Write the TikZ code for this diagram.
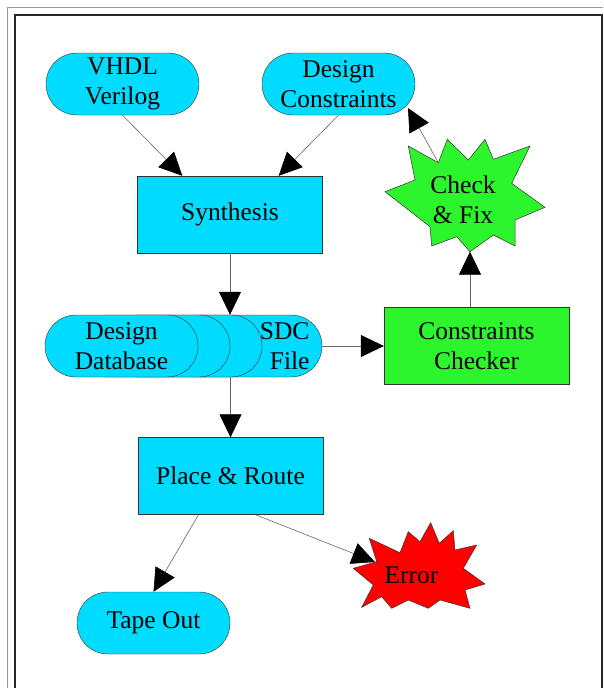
\documentclass[tikz,border=0pt]{standalone}
\usepackage{fontspec}
\setmainfont{Liberation Serif}
\usetikzlibrary{arrows.meta}
\definecolor{skyfill}{RGB}{0,220,255}
\definecolor{okfill}{RGB}{45,245,45}
\definecolor{errfill}{RGB}{255,0,0}
\tikzset{
  pill/.style={draw=black!80, fill=skyfill, rounded corners=30.9pt, minimum width=153pt, minimum height=62pt, inner sep=0pt, align=center},
  box/.style={draw=black!80, fill=skyfill, minimum width=185pt, minimum height=77pt, inner sep=0pt, align=center},
  flow/.style={draw=black!60, line width=0.6pt, -{Triangle[length=23pt,width=22pt,black]}},
  burst/.style={draw=black!80, line width=0.5pt}
}
\begin{document}
\begin{tikzpicture}[x=1pt,y=-1pt,font=\fontsize{25.5}{30}\selectfont]
\useasboundingbox (0,0) rectangle (603,688);
% frame
\draw [black!40, line width=1pt] (7,688) -- (7,7) -- (603,7);
\draw [black!85, line width=1.5pt] (15,688) -- (15,15) -- (602,15) -- (602,688);

\node (vhdl) at (122.5,84) [pill] {VHDL\\Verilog};
\node (dc) at (338.5,84) [pill] {Design\\Constraints};
\node (synth) at (230,214.5) [box] {Synthesis};

% stacked database
\node (db4) at (245.5,346) [pill, align=right, text width=128pt] {SDC\\File};
\node (db3) at (185.5,346) [pill] {};
\node (db2) at (153.5,346) [pill] {};
\node (db1) at (121.5,346) [pill] {Design\\Database};

\node (checker) at (476.5,346) [box, fill=okfill] {Constraints\\Checker};
\node (pr) at (230.5,476) [box] {Place \& Route};
\node (tape) at (153.5,623) [pill] {Tape Out};

% check & fix burst
\draw [burst, fill=okfill] (408.3,146) -- (438.3,162.7) -- (447.3,139.3) -- (468.3,160)
  -- (485,139.3) -- (493.3,159.3) -- (530,146) -- (511.7,183.3) -- (545,207.3)
  -- (515,220) -- (515,246) -- (493.3,235) -- (470,251.7) -- (456.7,236.7)
  -- (431.7,246) -- (430,226.7) -- (385,191.7) -- (415,180) -- cycle;
\node (fix) at (463,200) [align=center] {Check\\\& Fix};
\coordinate (fixtip) at (438.3,162.7);
\coordinate (fixbot) at (470,251.7);
\coordinate (dcfix) at (408,108);

% error burst
\draw [burst, fill=errfill] (369.3,538.3) -- (400,552.7) -- (408.3,531.7) -- (420,541.7)
  -- (430.7,522.7) -- (439.3,543.3) -- (453.3,530.7) -- (455,550) -- (476.7,545)
  -- (463.3,568.3) -- (485,584) -- (465,590) -- (470,608.3) -- (440,600)
  -- (428.3,608.3) -- (408.3,600) -- (391.7,608.3) -- (381.7,596.7) -- (361.7,607.3)
  -- (373.3,585) -- (353.3,568.3) -- (376.7,561.7) -- cycle;
\node (err) at (411.5,575) {Error};
\coordinate (errtip) at (375,562);

\draw [flow] (vhdl.south) -- ([xshift=45pt]synth.north west);
\draw [flow] (dc.south) -- ([xshift=-44pt]synth.north east);
\draw [flow] (synth.south) -- (synth.south |- db1.north);
\draw [flow] (db4.east) -- (checker.west);
\draw [flow] ([xshift=-6.5pt]checker.north) -- (fixbot);
\draw [flow] (fixtip) -- (dcfix);
\draw [flow] (pr.north |- db1.south) -- (pr.north);
\draw [flow] ([xshift=-32pt]pr.south) -- (tape.north);
\draw [flow] ([xshift=25pt]pr.south) -- (errtip);
\end{tikzpicture}
\end{document}
